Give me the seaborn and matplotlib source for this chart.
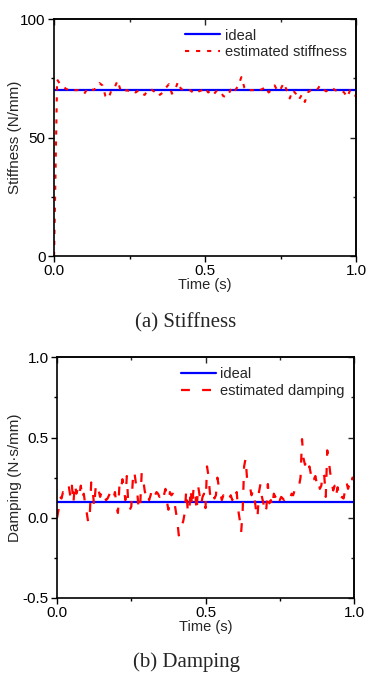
import numpy as np
import pandas as pd
import seaborn as sns
import matplotlib.pyplot as plt
from matplotlib.ticker import MultipleLocator

# valores
time_k = [round(0.01 * i, 2) for i in range(101)]
time_c = [round(0.005 * i, 3) for i in range(201)]

stiffness = [0, 74.5, 72.5, 71.5, 70.5, 70, 69.5, 70, 70, 69, 68.5,
             70.5, 71, 70, 71, 73, 72, 67.5, 66.5, 70, 71,
             74, 70, 69, 70, 69.5, 70, 69, 70, 68.5, 68,
             70, 70.5, 69.5, 70, 68, 69, 71, 72.5, 68.5, 70,
             73.5, 70.5, 70, 69.5, 70, 69, 70, 69.5, 70, 71,
             69, 70, 68.5, 70, 69.5, 67.5, 67, 69, 71.5, 70,
             72, 75.5, 71, 69.5, 70, 70, 69.5, 70, 70.5, 71.5,
             69, 70, 72, 69.5, 70.5, 73, 70, 66.5, 70, 68.5,
             66, 68, 65, 69, 70, 69.5, 70, 72, 70.5, 69.5,
             70, 71, 70, 69.5, 70, 69, 67, 70, 68, 67.5]

damping = [0.00, 0.05, 0.13, 0.12, 0.16, 0.15, 0.18, 0.17, 0.19, 0.13,
           0.20, 0.09, 0.21, 0.15, 0.18, 0.14, 0.20, 0.12, 0.15, 0.08,
           0.03, -0.03, 0.01, 0.22, 0.17, 0.07, 0.19, 0.15, 0.17, 0.13,
           0.16, 0.12, 0.13, 0.11, 0.12, 0.14, 0.16, 0.15, 0.12, 0.16,
           0.07, 0.03, 0.20, 0.17, 0.24, 0.19, 0.11, 0.26, 0.08, 0.05,
           0.07, 0.23, 0.29, 0.22, 0.16, 0.05, 0.08, 0.28, 0.24, 0.17,
           0.13, 0.15, 0.11, 0.14, 0.18, 0.17, 0.14, 0.16, 0.15, 0.13,
           0.15, 0.12, 0.14, 0.18, 0.10, 0.05, 0.16, 0.14, 0.15, 0.10,
           0.04, -0.02, -0.11, -0.08, -0.05, -0.02, 0.03, 0.17, 0.05, 0.03,
           0.18, 0.07, 0.19, 0.16, 0.04, 0.20, 0.14, 0.08, 0.13, 0.15,
           0.06, 0.32, 0.26, 0.15, 0.13, 0.16, 0.12, 0.14, 0.25, 0.19,
           0.15, 0.11, 0.14, 0.12, 0.13, 0.11, 0.12, 0.14, 0.11, 0.15,
           0.13, 0.16, 0.05, -0.01, -0.09, 0.04, 0.32, 0.37, 0.24, 0.22,
           0.19, 0.14, 0.17, 0.12, 0.05, 0.00, 0.16, 0.21, 0.13, 0.09,
           0.03, 0.06, 0.21, 0.09, 0.11, 0.07, 0.15, 0.13, 0.16, 0.12,
           0.11, 0.13, 0.12, 0.11, 0.12, 0.14, 0.13, 0.12, 0.15, 0.14,
           0.17, 0.16, 0.18, 0.20, 0.25, 0.49, 0.37, 0.33, 0.35, 0.30,
           0.32, 0.27, 0.29, 0.24, 0.26, 0.21, 0.23, 0.18, 0.20, 0.28,
           0.26, 0.13, 0.42, 0.36, 0.28, 0.22, 0.17, 0.20, 0.14, 0.19,
           0.12, 0.11, 0.13, 0.12, 0.17, 0.22, 0.18, 0.21, 0.19, 0.25,
           0.24]

k_ideal = 70
c_ideal = 0.1

df_k = pd.DataFrame({'t': time_k, 'k': stiffness})
df_k['k_ideal'] = k_ideal
df_c = pd.DataFrame({'t': time_c, 'c': damping})
df_c['c_ideal'] = c_ideal

sns.set_style("ticks")
plt.rcParams['font.family'] = ['Liberation Sans', 'DejaVu Sans']
plt.rcParams['font.size'] = 11

fig = plt.figure(figsize=(3.73, 6.8), dpi=100)
ax1 = fig.add_axes([0.145, 0.6235, 0.810, 0.3485])
ax2 = fig.add_axes([0.153, 0.1206, 0.796, 0.354])

# Rigidez
sns.lineplot(data=df_k, x='t', y='k_ideal', ax=ax1, color='#0000ff', lw=1.6, label='ideal')
sns.lineplot(data=df_k, x='t', y='k', ax=ax1, color='#ff0000', lw=1.5,
             linestyle=(0, (2, 3.3)), label='estimated stiffness')
ax1.set_ylim(0, 100)
ax1.yaxis.set_major_locator(MultipleLocator(50))
ax1.yaxis.set_minor_locator(MultipleLocator(25))
ax1.set_ylabel('Stiffness (N/mm)')
ax1.yaxis.set_label_coords(-0.105, 0.5)

# Amortiguamiento
sns.lineplot(data=df_c, x='t', y='c_ideal', ax=ax2, color='#0000ff', lw=1.6, label='ideal')
sns.lineplot(data=df_c, x='t', y='c', ax=ax2, color='#ff0000', lw=1.6,
             linestyle=(0, (4, 5.5)), label='estimated damping')
ax2.set_ylim(-0.5, 1.0)
ax2.yaxis.set_major_locator(MultipleLocator(0.5))
ax2.yaxis.set_minor_locator(MultipleLocator(0.25))
ax2.set_ylabel('Damping (N·s/mm)')
ax2.yaxis.set_label_coords(-0.118, 0.5)

for ax in [ax1, ax2]:
    ax.set_xlim(0, 1)
    ax.xaxis.set_major_locator(MultipleLocator(0.5))
    ax.xaxis.set_minor_locator(MultipleLocator(0.25))
    ax.xaxis.set_major_formatter(plt.FormatStrFormatter('%.1f'))
    ax.set_xlabel('Time (s)', labelpad=0, fontsize=10.5)
    for s in ax.spines.values():
        s.set_linewidth(1.2)
        s.set_color('black')
    ax.tick_params(which='both', direction='out', width=1, colors='black', labelsize=11, pad=2)
    ax.tick_params(which='major', length=4)
    ax.tick_params(which='minor', length=2.5)
    ax.legend(loc='upper right', frameon=False, fontsize=10.5, handlelength=2.4,
              handletextpad=0.3, labelspacing=0.2, borderaxespad=0.25)
    # ticks interiores en los lados opuestos
    sec = ax.secondary_xaxis('top')
    sec.xaxis.set_major_locator(MultipleLocator(0.5))
    sec.xaxis.set_minor_locator(MultipleLocator(0.25))
    sec.tick_params(which='both', direction='in', labeltop=False, width=1)
    sec.tick_params(which='major', length=4)
    sec.tick_params(which='minor', length=2.5)
    sec.spines['top'].set_linewidth(1.2)
    secy = ax.secondary_yaxis('right')
    secy.yaxis.set_major_locator(ax.yaxis.get_major_locator())
    secy.yaxis.set_minor_locator(ax.yaxis.get_minor_locator())
    secy.tick_params(which='both', direction='in', labelright=False, width=1)
    secy.tick_params(which='major', length=4)
    secy.tick_params(which='minor', length=2.5)
    secy.spines['right'].set_linewidth(1.2)

ax1.yaxis.set_major_formatter(plt.FormatStrFormatter('%d'))
ax2.yaxis.set_major_formatter(plt.FormatStrFormatter('%.1f'))

fig.text(0.497, 0.525, '(a) Stiffness', ha='center', va='center',
         family=['Liberation Serif', 'DejaVu Serif'], fontsize=15)
fig.text(0.499, 0.026, '(b) Damping', ha='center', va='center',
         family=['Liberation Serif', 'DejaVu Serif'], fontsize=15)

fig.savefig('out.png', dpi=100)
